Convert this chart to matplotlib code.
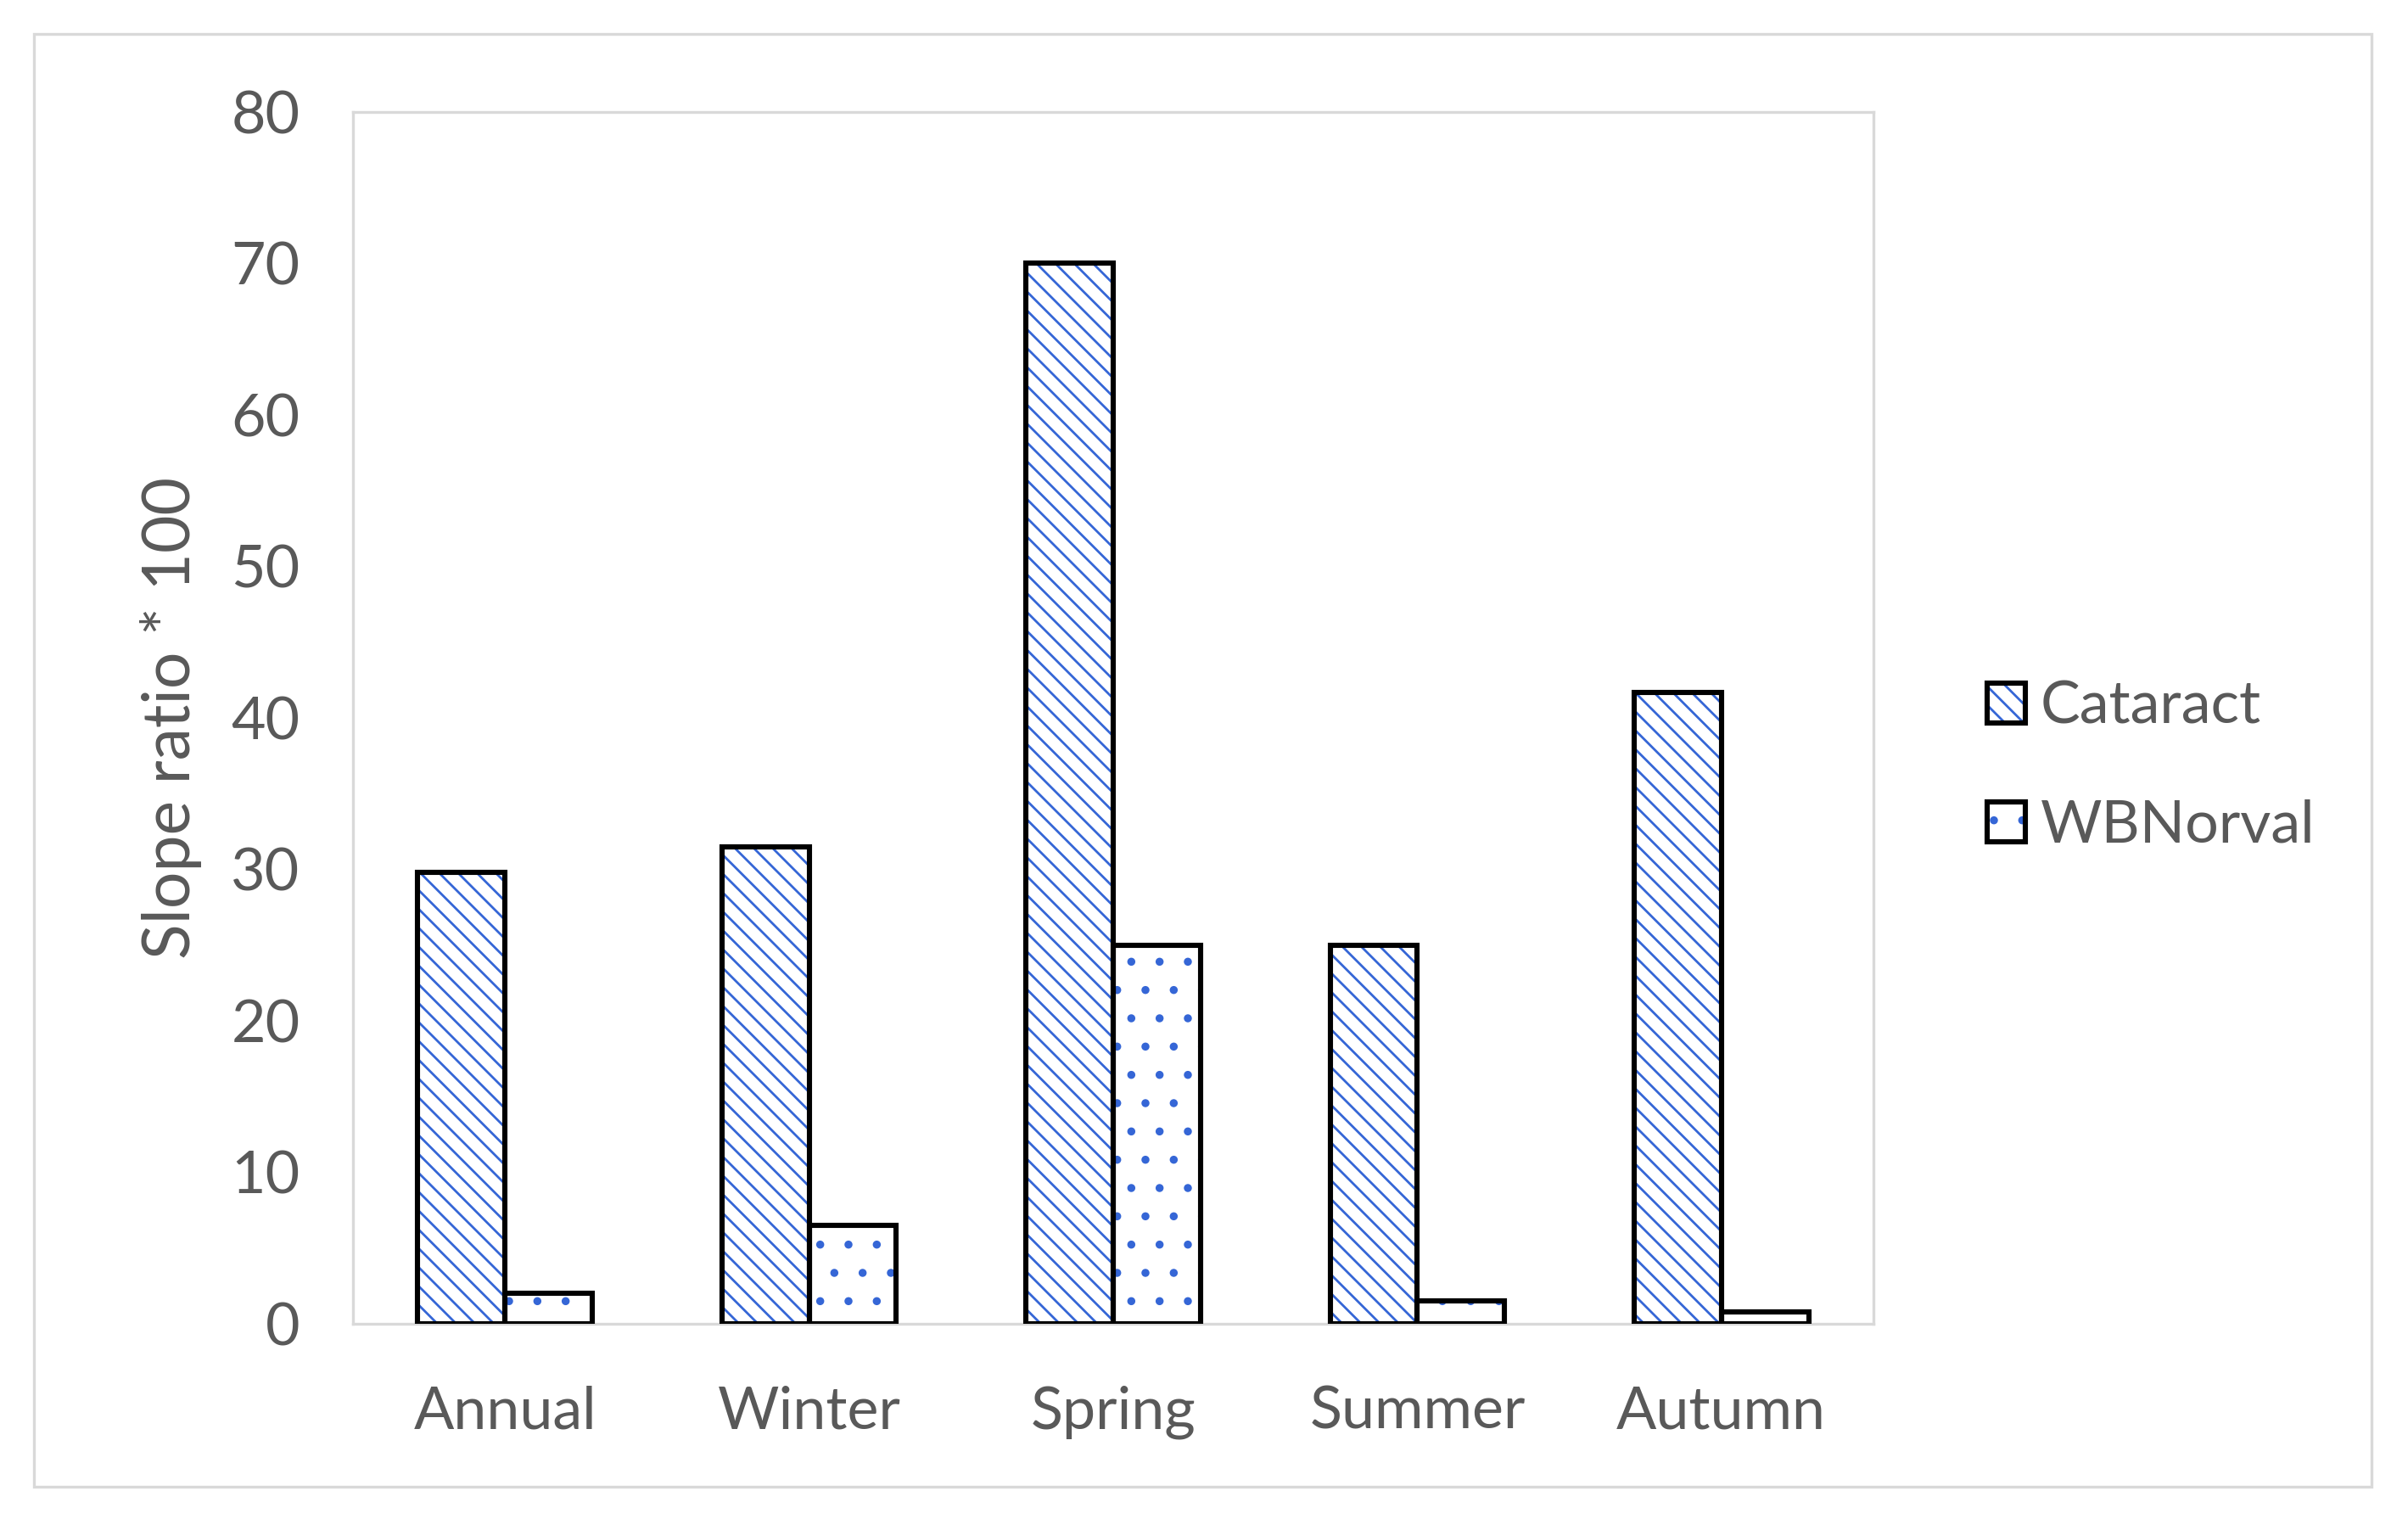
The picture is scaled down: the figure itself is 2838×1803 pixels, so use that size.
"""Seasonal slope ratio bar chart: Cataract vs WBNorval."""
import matplotlib
matplotlib.use("Agg")
import matplotlib.pyplot as plt
import numpy as np
from matplotlib.patches import Patch, Rectangle
from matplotlib.legend_handler import HandlerTuple

categories = ["Annual", "Winter", "Spring", "Summer", "Autumn"]
cataract = [29.8, 31.5, 70.0, 25.0, 41.7]
wbnorval = [2.0, 6.5, 25.0, 1.5, 0.8]
yticks = [0, 10, 20, 30, 40, 50, 60, 70, 80]

GREY_TEXT = "#595959"
HATCH_BLUE = "#3566d6"
FRAME = "#d9d9d9"
EDGE_LW = 2.2
CAT_HATCH = "\\\\\\"
WBN_HATCH = "."

plt.rcParams["font.family"] = ["Lato", "DejaVu Sans"]
plt.rcParams["hatch.linewidth"] = 1.0

fig = plt.figure(figsize=(14.19, 9.015), dpi=200)
ax = fig.add_axes([0.1466, 0.1348, 0.778 - 0.1466, 0.9268 - 0.1348])

x = np.arange(len(categories))
w = 0.287

# hatch layer (blue) then black outline on top
ax.bar(x - w / 2, cataract, w, color="white", edgecolor=HATCH_BLUE,
       hatch=CAT_HATCH, linewidth=0, zorder=2)
ax.bar(x + w / 2, wbnorval, w, color="white", edgecolor=HATCH_BLUE,
       hatch=WBN_HATCH, linewidth=0, zorder=2)
ax.bar(x - w / 2, cataract, w, fill=False, edgecolor="black",
       linewidth=EDGE_LW, zorder=3)
ax.bar(x + w / 2, wbnorval, w, fill=False, edgecolor="black",
       linewidth=EDGE_LW, zorder=3)

ax.set_xlim(-0.5, len(categories) - 0.5)
ax.set_ylim(0, 80)
ax.set_yticks(yticks)
ax.set_xticks(x)
ax.set_xticklabels(categories)
ax.tick_params(axis="both", length=0, labelsize=25.2, colors=GREY_TEXT)
ax.tick_params(axis="y", pad=22.5)
ax.tick_params(axis="x", pad=26)
ax.set_ylabel("Slope ratio * 100", fontsize=27.7, color=GREY_TEXT, labelpad=12.5)

for sp in ax.spines.values():
    sp.set_color(FRAME)
    sp.set_linewidth(1.2)

h1 = (Patch(facecolor="white", edgecolor=HATCH_BLUE, hatch=CAT_HATCH, linewidth=0),
      Patch(fill=False, edgecolor="black", linewidth=EDGE_LW))
h2 = (Patch(facecolor="white", edgecolor=HATCH_BLUE, hatch=WBN_HATCH, linewidth=0),
      Patch(fill=False, edgecolor="black", linewidth=EDGE_LW))
leg = fig.legend([h1, h2], ["Cataract", "WBNorval"],
                 handler_map={tuple: HandlerTuple(ndivide=1)},
                 loc="center left", bbox_to_anchor=(0.803, 0.499),
                 frameon=False, fontsize=25.2, labelcolor=GREY_TEXT,
                 handlelength=0.65, handleheight=0.65, handletextpad=0.25,
                 labelspacing=1.1)

# outer chart border
fig.patches.append(Rectangle((0.014, 0.0283), 0.971, 0.9495, transform=fig.transFigure,
                             fill=False, edgecolor=FRAME, linewidth=1.2))

fig.savefig("out.png", dpi=200)
